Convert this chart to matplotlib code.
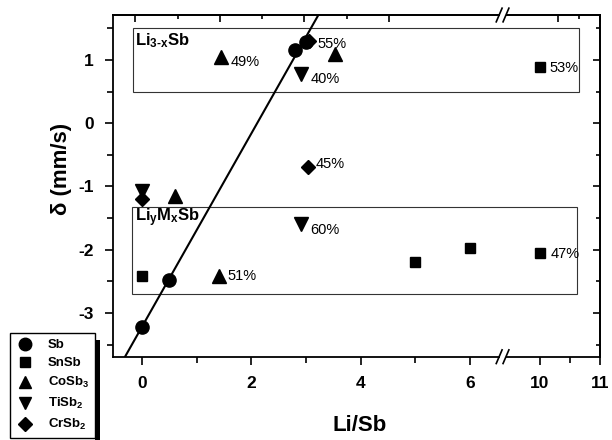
import numpy as np
import matplotlib
matplotlib.use('Agg')
import matplotlib.pyplot as plt
from matplotlib.lines import Line2D
from matplotlib.patches import Rectangle

plt.rcParams['font.family'] = ['Liberation Sans', 'DejaVu Sans']
plt.rcParams['axes.unicode_minus'] = False
plt.rcParams['mathtext.fontset'] = 'custom'
plt.rcParams['mathtext.rm'] = 'Liberation Sans:bold'
plt.rcParams['mathtext.it'] = 'Liberation Sans:bold'
plt.rcParams['mathtext.bf'] = 'Liberation Sans:bold'

# data
sb_x = [0, 0.5, 2.8, 3.0]
sb_y = [-3.22, -2.47, 1.15, 1.28]
snsb_x = [0, 5, 6, 10, 10]
snsb_y = [-2.42, -2.2, -1.98, -2.05, 0.89]
cosb3_x = [0.6, 1.45, 1.42, 3.53]
cosb3_y = [-1.15, 1.05, -2.42, 1.09]
tisb2_x = [0, 2.9, 2.9]
tisb2_y = [-1.07, 0.78, -1.6]
crsb2_x = [0, 3.05, 3.03]
crsb2_y = [-1.19, 1.3, -0.69]

pct_labels = ['55%', '49%', '40%', '53%', '45%', '60%', '51%', '47%']
pct_x = [3.05, 1.45, 2.9, 10, 3.03, 2.9, 1.42, 10]
pct_y = [1.3, 1.05, 0.78, 0.89, -0.69, -1.6, -2.42, -2.05]
pct_off = [(6, -2), (7, -4), (7, -4), (7, -1), (6, 2), (7, -4), (6, 0), (8, -1)]

x_ticks = [0, 2, 4, 6, 10, 11]
x_minor = [1, 3, 5, 10.5]

# broken x axis: 6.6 .. 9.39 removed
B1, B2, K = 6.6, 9.39, 1.10


def fwd(x):
    x = np.asarray(x, dtype=float)
    return np.where(x <= B1, x, B1 + (x - B2) * K)


def inv(x):
    x = np.asarray(x, dtype=float)
    return np.where(x <= B1, x, B2 + (x - B1) / K)


fig = plt.figure(figsize=(6.12, 4.4), dpi=100)
ax = fig.add_axes([113.3 / 612, 1 - 356.7 / 440, 486.7 / 612, 341.7 / 440])
ax.set_xscale('function', functions=(fwd, inv))
ax.set_xlim(-0.52, 11)
ax.set_ylim(-3.69, 1.71)

# fit line through Sb points
p = np.polyfit(sb_x, sb_y, 1)
lx = np.array([-1, 4])
ax.plot(lx, np.polyval(p, lx), color='black', lw=1.5, zorder=2)

ms = dict(color='black', linestyle='none', zorder=3)
ax.plot(sb_x, sb_y, marker='o', ms=9.5, **ms)
ax.plot(snsb_x, snsb_y, marker='s', ms=7.5, **ms)
ax.plot(cosb3_x, cosb3_y, marker='^', ms=9.5, **ms)
ax.plot(tisb2_x, tisb2_y, marker='v', ms=9.5, **ms)
ax.plot(crsb2_x, crsb2_y, marker='D', ms=7.5, **ms)

for lab, x, y, off in zip(pct_labels, pct_x, pct_y, pct_off):
    ax.annotate(lab, (x, y), xytext=off, textcoords='offset points',
                ha='left', va='center', fontsize=10.5, zorder=4)

# region boxes
ax.add_patch(Rectangle((-0.165, 0.5), 10.65 + 0.165, 1.0, fill=False,
                       lw=0.8, ec='#333333', zorder=1))
ax.add_patch(Rectangle((-0.18, -2.7), 10.62 + 0.18, 1.38, fill=False,
                       lw=0.8, ec='#333333', zorder=1))
ax.text(-0.12, 1.3, r'Li$_{3\text{-}x}$Sb', fontsize=12, fontweight='bold',
        ha='left', va='center')
ax.text(-0.12, -1.5, r'Li$_{y}$M$_{x}$Sb', fontsize=12, fontweight='bold',
        ha='left', va='center')

ax.set_xticks(x_ticks)
ax.set_xticklabels([str(t) for t in x_ticks])
ax.set_xticks(x_minor, minor=True)
ax.set_yticks([-3, -2, -1, 0, 1])
ax.set_yticks([-3.5, -2.5, -1.5, -0.5, 0.5, 1.5], minor=True)
for lab in ax.get_xticklabels() + ax.get_yticklabels():
    lab.set_fontweight('bold')
ax.tick_params(which='both', direction='out', labelsize=12.5, width=1.2,
               top=False, right=False)
ax.tick_params(which='major', length=6, pad=8)
ax.tick_params(which='minor', length=4)

# mirrored ticks pointing inward on top and right
ax2 = ax.secondary_xaxis('top', functions=(lambda v: v, lambda v: v))
ax2.set_xticks(x_ticks)
ax2.set_xticks(x_minor, minor=True)
ax2.tick_params(which='both', direction='in', labeltop=False, width=1.2)
ax2.tick_params(which='major', length=5)
ax2.tick_params(which='minor', length=3)
ax3 = ax.secondary_yaxis('right')
ax3.set_yticks([-3, -2, -1, 0, 1])
ax3.set_yticks([-3.5, -2.5, -1.5, -0.5, 0.5, 1.5], minor=True)
ax3.tick_params(which='both', direction='in', labelright=False, width=1.2)
ax3.tick_params(which='major', length=5)
ax3.tick_params(which='minor', length=3)
for a in (ax, ax2, ax3):
    for s in a.spines.values():
        s.set_linewidth(1.3)

ax.set_xlabel('Li/Sb', fontsize=16, fontweight='bold')
ax.xaxis.set_label_coords(0.507, -0.17)
ax.set_ylabel('δ (mm/s)', fontsize=16, fontweight='bold')
ax.yaxis.set_label_coords(-0.085, 0.55)

# break marks on top and bottom spines
bx = (fwd(B1) - fwd(-0.52)) / (fwd(11) - fwd(-0.52))
for yb in (0, 1):
    ax.add_patch(Rectangle((bx - 0.006, yb - 0.01), 0.012, 0.02,
                           transform=ax.transAxes, fc='white', ec='none',
                           clip_on=False, zorder=5))
    for dx in (-0.008, 0.006):
        ax.plot([bx + dx - 0.006, bx + dx + 0.006], [yb - 0.02, yb + 0.02],
                transform=ax.transAxes, color='black', lw=1.2,
                clip_on=False, zorder=6)

# legend with a heavy shadow on the right
handles = [
    Line2D([], [], marker='o', ms=9, color='black', ls='none'),
    Line2D([], [], marker='s', ms=7.5, color='black', ls='none'),
    Line2D([], [], marker='^', ms=9, color='black', ls='none'),
    Line2D([], [], marker='v', ms=9, color='black', ls='none'),
    Line2D([], [], marker='D', ms=7.5, color='black', ls='none'),
]
names = ['Sb', 'SnSb', r'CoSb$_3$', r'TiSb$_2$', r'CrSb$_2$']
leg = fig.legend(handles, names, loc='upper left',
                 bbox_to_anchor=(10 / 612, 1 - 333 / 440),
                 borderaxespad=0, fancybox=False, edgecolor='black',
                 framealpha=1, handlelength=1.3, handletextpad=1.1,
                 labelspacing=0.45, borderpad=0.45,
                 prop={'weight': 'bold', 'size': 9.5})
leg.get_frame().set_linewidth(1.0)
leg.set_zorder(3)

fig.canvas.draw()
bb = leg.get_window_extent().transformed(fig.transFigure.inverted())
fig.add_artist(Rectangle((bb.x1, 0), 5 / 612, bb.y1 - 7 / 440,
                         transform=fig.transFigure, fc='black', ec='none',
                         zorder=4))

fig.savefig('out.png', dpi=100)
